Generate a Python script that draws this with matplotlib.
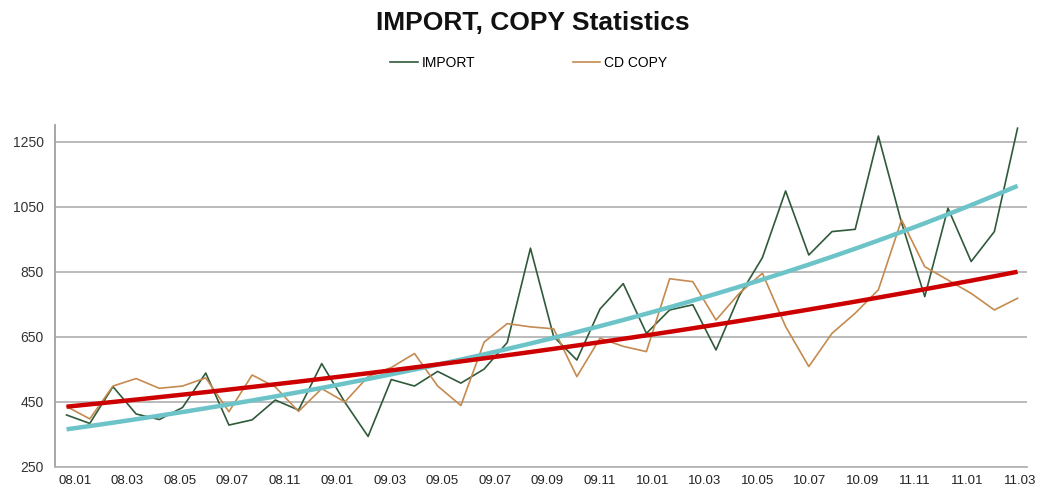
import numpy as np
import matplotlib
matplotlib.use("Agg")
import matplotlib.pyplot as plt
from matplotlib import font_manager

months = list(range(42))
import_vals = [409, 383, 496, 412, 395, 432, 538, 378, 394, 455, 424, 567, 448, 343,
               518, 498, 543, 507, 550, 632, 922, 650, 578, 735, 813, 660, 732, 748,
               609, 775, 893, 1098, 901, 973, 980, 1267, 1000, 773, 1045, 881, 973, 1291]
copy_vals = [435, 397, 498, 521, 491, 498, 523, 419, 532, 495, 420, 490, 449, 527,
             555, 598, 498, 438, 633, 690, 680, 674, 527, 645, 620, 604, 828, 819,
             701, 783, 845, 681, 558, 660, 722, 794, 1009, 865, 824, 783, 732, 768]
tick_labels = ["08.01", "08.03", "08.05", "09.07", "08.11", "09.01", "09.03", "09.05",
               "09.07", "09.09", "09.11", "10.01", "10.03", "10.05", "10.07", "10.09",
               "11.11", "11.01", "11.03"]
y_ticks = [250, 450, 650, 850, 1050, 1250]

names = {f.name for f in font_manager.fontManager.ttflist}
narrow = "Liberation Sans Narrow" if "Liberation Sans Narrow" in names else "Liberation Sans"
plt.rcParams['font.family'] = [narrow, 'DejaVu Sans']

x = np.array(months, dtype=float)

def exp_trend(xv, yv):
    b, a = np.polyfit(xv, np.log(yv), 1)
    return np.exp(a + b * xv)

fig = plt.figure(figsize=(10.51, 4.9), dpi=100)
ax = fig.add_axes([0.0523, 0.0476, 0.9247, 0.6974])

ax.plot(x, import_vals, color="#2f5a3a", lw=1.2, label="IMPORT", zorder=3)
ax.plot(x, copy_vals, color="#c58a4f", lw=1.2, label="CD COPY", zorder=3)
ax.plot(x, exp_trend(x, import_vals), color="#6cc4c8", lw=3.2, zorder=4,
        solid_capstyle="butt")
ax.plot(x, exp_trend(x, copy_vals), color="#cc0000", lw=3.2, zorder=5,
        solid_capstyle="butt")

ax.set_xlim(-0.5, 41.4)
ax.set_ylim(250, 1301)
ax.set_yticks(y_ticks)
ax.set_yticklabels([str(v) for v in y_ticks], fontsize=10, color="#333333")
ax.set_xticks(np.linspace(0.36, 41.1, len(tick_labels)))
ax.set_xticklabels(tick_labels, fontsize=9.5, color="#222222")
ax.tick_params(length=0, pad=6)
ax.tick_params(axis='y', pad=8)

ax.grid(axis='y', color="#b5b5b5", lw=1.3)
ax.set_axisbelow(True)
for s in ["top", "right"]:
    ax.spines[s].set_visible(False)
ax.spines["left"].set_color("#a0a0a0")
ax.spines["bottom"].set_color("#b5b5b5")
ax.spines["left"].set_linewidth(1.3)
ax.spines["bottom"].set_linewidth(1.3)

fig.text(0.507, 0.953, "IMPORT, COPY Statistics", ha="center", va="center",
         fontsize=19, fontweight="bold", color="#111111", family=['Liberation Sans', 'DejaVu Sans'])
fig.legend(loc="center", bbox_to_anchor=(0.503, 0.871), ncol=2, frameon=False,
           handlelength=2.0, handletextpad=0.3, columnspacing=7, fontsize=10)

fig.savefig("out.png", dpi=100, facecolor="white")
